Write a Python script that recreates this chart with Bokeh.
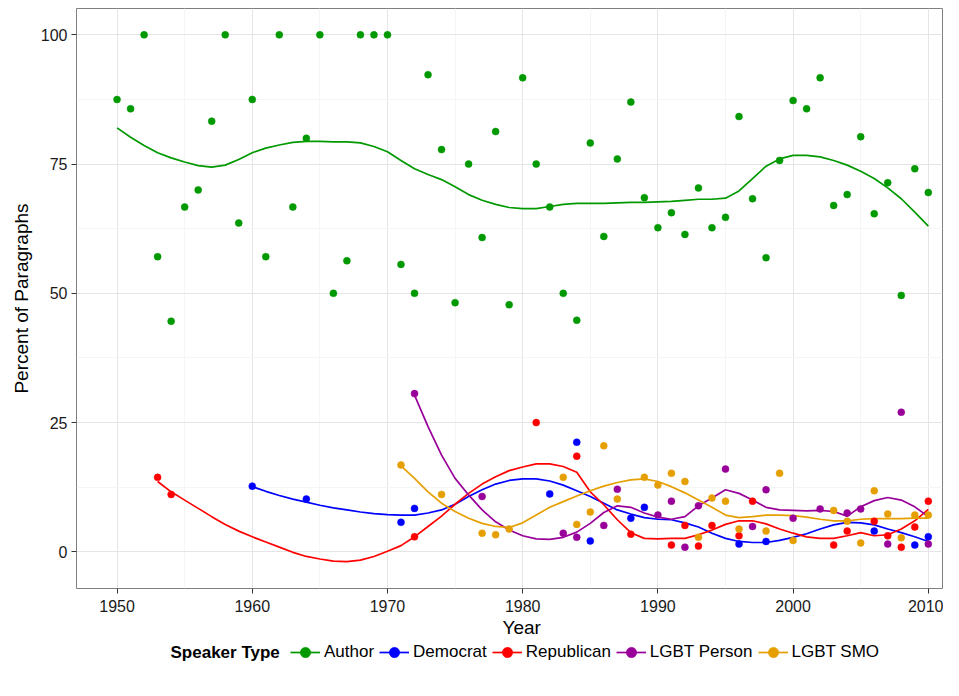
from bokeh.plotting import figure
from bokeh.layouts import column
from bokeh.models import FixedTicker, Legend, LegendItem, Range1d, Label, Title
from bokeh.embed import file_html
from bokeh.resources import INLINE

# ---------------- data ----------------
author_years = list(range(1950, 2011))
author_vals = [87.5, 85.7, 100, 57.1, 44.6, 66.7, 70.0, 83.3, 100, 63.6,
               87.5, 57.1, 100, 66.7, 80.0, 100, 50.0, 56.3, 100, 100,
               100, 55.6, 50.0, 92.3, 77.8, 48.2, 75.0, 60.8, 81.3, 47.8,
               91.7, 75.0, 66.7, 50.0, 44.8, 79.1, 61.0, 76.0, 87.0, 68.5,
               62.7, 65.6, 61.4, 70.4, 62.7, 64.7, 84.2, 68.3, 56.9, 75.7,
               87.3, 85.7, 91.7, 67.0, 69.1, 80.3, 65.4, 71.4, 49.6, 74.1, 69.5]

dem_years = [1960, 1964, 1971, 1972, 1982, 1984, 1985, 1988, 1989, 1996, 1998, 2006, 2009, 2010]
dem_vals = [12.7, 10.2, 5.7, 8.4, 11.2, 21.2, 2.1, 6.5, 8.6, 1.5, 2.0, 4.0, 1.3, 2.9]

rep_years = [1953, 1954, 1972, 1981, 1984, 1988, 1991, 1992, 1993, 1994, 1996, 1997,
             2003, 2004, 2006, 2007, 2008, 2009, 2010]
rep_vals = [14.4, 11.1, 2.9, 25.0, 18.5, 3.4, 1.3, 5.1, 1.1, 5.1, 3.1, 9.8,
            1.3, 4.0, 5.9, 3.1, 0.9, 4.8, 9.8]

lp_years = [1972, 1977, 1983, 1984, 1986, 1987, 1990, 1991, 1992, 1993, 1995, 1997,
            1998, 2000, 2002, 2004, 2005, 2007, 2008, 2010]
lp_vals = [30.6, 10.7, 3.6, 2.8, 5.1, 12.1, 7.1, 9.8, 0.9, 8.9, 16.0, 4.9,
           12.0, 6.5, 8.3, 7.5, 8.3, 1.5, 27.0, 1.5]

smo_years = [1971, 1974, 1977, 1978, 1979, 1983, 1984, 1985, 1986, 1987, 1989, 1990,
             1991, 1992, 1993, 1994, 1995, 1996, 1998, 1999, 2000, 2003, 2004, 2005,
             2006, 2007, 2008, 2009, 2010]
smo_vals = [16.8, 11.1, 3.6, 3.3, 4.4, 14.4, 5.3, 7.7, 20.5, 10.2, 14.4, 12.9,
            15.2, 13.6, 2.8, 10.4, 9.8, 4.4, 4.0, 15.2, 2.2, 8.0, 5.9, 1.7,
            11.8, 7.3, 2.7, 7.1, 7.1]

# smoothed trend lines (one value per year)
author_fit_years = list(range(1950, 2011))
author_fit = [82.0, 80.2, 78.6, 77.2, 76.2, 75.4, 74.7, 74.4, 74.8, 75.9,
              77.2, 78.1, 78.7, 79.2, 79.4, 79.4, 79.3, 79.3, 79.1, 78.4,
              77.4, 75.7, 74.1, 73.0, 72.0, 70.6, 69.1, 68.0, 67.2, 66.6,
              66.4, 66.4, 66.8, 67.2, 67.4, 67.4, 67.4, 67.5, 67.6, 67.6,
              67.7, 67.8, 68.0, 68.2, 68.2, 68.4, 69.8, 72.2, 74.6, 76.0,
              76.7, 76.7, 76.4, 75.7, 74.8, 73.6, 72.2, 70.4, 68.3, 65.7, 63.0]

dem_fit_years = list(range(1960, 2011))
dem_fit = [12.6, 11.7, 10.9, 10.2, 9.6, 9.0, 8.5, 8.1, 7.7, 7.4,
           7.2, 7.1, 7.1, 7.5, 8.1, 9.2, 10.7, 12.0, 13.1, 13.8,
           14.1, 14.1, 13.7, 12.9, 11.8, 10.7, 9.4, 8.1, 7.3, 6.6,
           6.3, 6.2, 5.6, 4.8, 3.6, 2.6, 2.0, 1.8, 1.8, 2.2,
           2.8, 3.5, 4.4, 5.2, 5.7, 5.6, 5.2, 4.4, 3.7, 2.9, 2.0]

rep_fit_years = list(range(1953, 2011))
rep_fit = [13.6, 11.6, 10.0, 8.4, 6.8, 5.3, 4.0,
           2.9, 1.9, 0.9, -0.1, -0.9, -1.4, -1.8, -1.9, -1.6, -0.9,
           0.1, 1.2, 2.9, 4.9, 6.9, 9.2, 11.3, 13.1, 14.5, 15.7,
           16.4, 17.0, 17.0, 16.5, 15.4, 11.6, 9.1, 6.2, 3.7, 2.6,
           2.5, 2.6, 2.6, 3.3, 4.2, 5.3, 6.0, 6.0, 5.4, 4.4,
           3.6, 2.9, 2.6, 2.6, 3.1, 3.7, 3.1, 3.3, 4.4, 6.0, 8.2]

lp_fit_years = list(range(1972, 2011))
lp_fit = [30.3, 24.2, 18.7, 14.2, 11.0, 8.1, 5.8, 4.2,
          3.1, 2.5, 2.4, 2.8, 3.8, 5.5, 7.6, 8.9, 8.6, 7.5,
          6.7, 6.3, 6.8, 8.9, 10.4, 12.0, 11.3, 10.0, 8.6, 8.1,
          8.0, 7.9, 8.0, 7.8, 6.9, 8.7, 9.9, 10.5, 10.0, 8.7, 6.8]

smo_fit_years = list(range(1971, 2011))
smo_fit = [16.6, 14.2, 11.6, 9.4, 7.8, 6.5, 5.5, 4.9, 4.7,
           5.6, 7.1, 8.6, 9.7, 10.8, 11.8, 12.7, 13.4, 13.9, 14.1,
           13.6, 12.6, 11.4, 10.0, 8.6, 7.1, 6.6, 6.8, 7.1, 7.1,
           7.0, 6.7, 6.3, 6.0, 6.0, 6.3, 6.4, 6.4, 6.4, 6.5, 6.5]

x_ticks = [1950, 1960, 1970, 1980, 1990, 2000, 2010]
x_minor = [1955, 1965, 1975, 1985, 1995, 2005]
y_ticks = [0, 25, 50, 75, 100]
y_minor = [12.5, 37.5, 62.5, 87.5]

series = [
    ("Author", "#009900", author_years, author_vals, author_fit_years, author_fit),
    ("Democrat", "#0000FF", dem_years, dem_vals, dem_fit_years, dem_fit),
    ("Republican", "#FF0000", rep_years, rep_vals, rep_fit_years, rep_fit),
    ("LGBT Person", "#990099", lp_years, lp_vals, lp_fit_years, lp_fit),
    ("LGBT SMO", "#E69F00", smo_years, smo_vals, smo_fit_years, smo_fit),
]

FONT = "Liberation Sans"
TXT = "#1a1a1a"
W = 943

p = figure(width=W, height=639, output_backend="svg", toolbar_location=None,
           x_range=Range1d(1947, 2011.05), y_range=Range1d(-7.1, 105.1),
           min_border_left=76, min_border_top=8, min_border_right=1, min_border_bottom=51)

p.background_fill_color = "white"
p.border_fill_color = "white"
p.outline_line_color = "#7f7f7f"
p.outline_line_width = 1

for ax in (p.xaxis[0], p.yaxis[0]):
    ax.axis_line_color = None
    ax.major_tick_line_color = "#333333"
    ax.major_tick_out = 5
    ax.major_tick_in = 0
    ax.minor_tick_out = 0
    ax.minor_tick_in = 0
    ax.major_label_text_font = FONT
    ax.major_label_text_font_size = "16px"
    ax.major_label_text_color = TXT
    ax.axis_label_text_font = FONT
    ax.axis_label_text_font_size = "19px"
    ax.axis_label_text_font_style = "normal"
    ax.axis_label_text_color = "black"

p.xaxis.ticker = FixedTicker(ticks=x_ticks, minor_ticks=x_minor)
p.yaxis.ticker = FixedTicker(ticks=y_ticks, minor_ticks=y_minor)
p.yaxis.axis_label = "Percent of Paragraphs"
p.xaxis.major_label_standoff = 6
p.yaxis.major_label_standoff = 4
p.yaxis.axis_label_standoff = 6

# x-axis title, centred where the reference's panel centre lies
xtitle = Title(text="Year", align="left", offset=426, standoff=0,
               text_font=FONT, text_font_size="19px", text_font_style="normal",
               text_color="black")
p.add_layout(xtitle, "below")

for g in (p.xgrid[0], p.ygrid[0]):
    g.grid_line_color = "#e5e5e5"
    g.grid_line_width = 1
    g.minor_grid_line_color = "#f5f5f5"
    g.minor_grid_line_width = 1

for name, col, xs, ys, fx, fy in series:
    p.line(fx, fy, line_color=col, line_width=1.7)
for name, col, xs, ys, fx, fy in series:
    p.scatter(xs, ys, size=7, fill_color=col, line_color=col, line_width=0.5)

# ---------------- legend strip (its frame is aligned with the main frame) ----------------
f = figure(width=W, height=41, output_backend="svg", toolbar_location=None,
           x_axis_type=None, y_axis_type=None, min_border=0,
           x_range=Range1d(0, 1), y_range=Range1d(0, 1))
f.outline_line_color = None
f.grid.visible = False
f.background_fill_color = "white"
f.border_fill_color = "white"

items = []
for name, col, xs, ys, fx, fy in series:
    # same data as the chart; it falls outside this strip's ranges, only the key is seen
    lr = f.line(fx, fy, line_color=col, line_width=1.7)
    sr = f.scatter(xs, ys, size=7, fill_color=col, line_color=col, line_width=0.5)
    items.append(LegendItem(label=name, renderers=[lr, sr]))

legend = Legend(items=items, orientation="horizontal", location=(214, 15))
legend.label_text_font = FONT
legend.label_text_font_size = "17px"
legend.label_text_color = "black"
legend.label_standoff = 4
legend.glyph_width = 30
legend.glyph_height = 26
legend.spacing = 5
legend.padding = 0
legend.margin = 0
legend.border_line_color = None
legend.background_fill_alpha = 0
f.add_layout(legend, "center")

ltitle = Label(x=94, y=28, x_units="screen", y_units="screen", text="Speaker Type",
               text_font=FONT, text_font_size="17px", text_font_style="bold",
               text_color="black", text_align="left", text_baseline="middle")
f.add_layout(ltitle)

layout = column(p, f, spacing=0)
open("out.html", "w").write(file_html(layout, INLINE))
